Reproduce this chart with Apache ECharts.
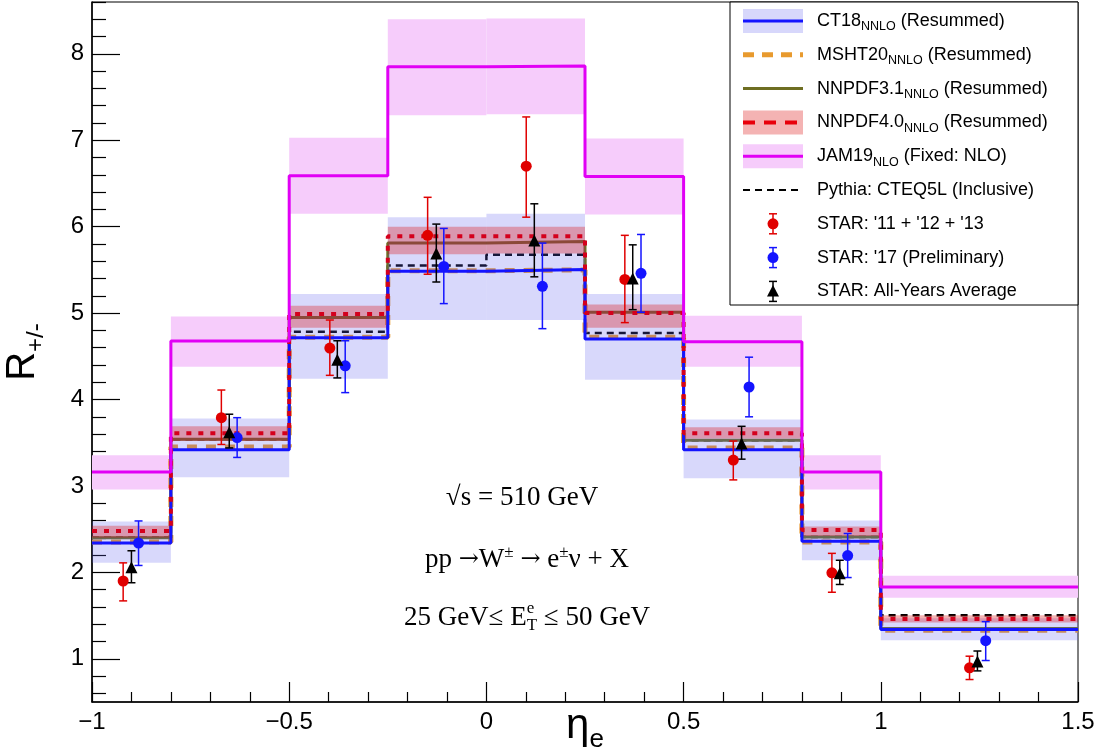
<!DOCTYPE html>
<html>
<head>
<meta charset="utf-8">
<script src="https://cdn.jsdelivr.net/npm/echarts@6/dist/echarts.min.js"></script>
<style>
    html, body { margin: 0; padding: 0; background: #fff; }
    #chart { width: 1102px; height: 756px; }
</style>
</head>
<body>
<div id="chart"></div>
<script>
    // eta bin edges
    const edges = [-1, -0.8, -0.5, -0.25, 0, 0.25, 0.5, 0.8, 1.0, 1.5];

    // theory curves, one value per bin
    const ct18 = [2.34, 3.42, 4.715, 5.485, 5.505, 4.70, 3.42, 2.36, 1.34];
    const ct18Lo = [2.11, 3.10, 4.24, 4.92, 4.92, 4.23, 3.09, 2.14, 1.215];
    const ct18Hi = [2.59, 3.78, 5.22, 6.11, 6.15, 5.22, 3.77, 2.60, 1.47];
    const msht20 = [2.35, 3.45, 4.72, 5.49, 5.50, 4.72, 3.44, 2.35, 1.33];
    const nnpdf31 = [2.40, 3.54, 4.95, 5.81, 5.83, 5.01, 3.53, 2.41, 1.35];
    const nnpdf40 = [2.48, 3.61, 4.99, 5.89, 5.89, 5.00, 3.61, 2.49, 1.46];
    const nnpdf40Lo = [2.40, 3.52, 4.83, 5.68, 5.69, 4.83, 3.55, 2.42, 1.42];
    const nnpdf40Hi = [2.54, 3.69, 5.085, 6.00, 6.00, 5.10, 3.68, 2.53, 1.505];
    const jam19 = [3.16, 4.676, 6.59, 7.85, 7.86, 6.58, 4.67, 3.16, 1.83];
    const jam19Lo = [2.96, 4.38, 6.15, 7.29, 7.30, 6.14, 4.38, 2.96, 1.705];
    const jam19Hi = [3.355, 4.96, 7.03, 8.40, 8.41, 7.02, 4.97, 3.355, 1.96];
    const pythia = [2.40, 3.54, 4.785, 5.55, 5.675, 4.77, 3.53, 2.41, 1.505];

    // STAR data
    const star13X = [-0.921, -0.672, -0.397, -0.149, 0.101, 0.351, 0.626, 0.876, 1.225];
    const star13Y = [1.90, 3.79, 4.595, 5.90, 6.70, 5.39, 3.30, 1.995, 0.896];
    const star13Lo = [1.67, 3.48, 4.28, 5.45, 6.11, 4.89, 3.07, 1.77, 0.76];
    const star13Hi = [2.11, 4.11, 4.92, 6.34, 7.27, 5.90, 3.52, 2.22, 1.03];

    const star17X = [-0.882, -0.632, -0.358, -0.108, 0.142, 0.392, 0.666, 0.916, 1.266];
    const star17Y = [2.34, 3.56, 4.39, 5.54, 5.31, 5.46, 4.145, 2.195, 1.21];
    const star17Lo = [2.08, 3.33, 4.08, 5.11, 4.82, 5.01, 3.80, 1.94, 0.98];
    const star17Hi = [2.595, 3.79, 4.68, 5.98, 5.81, 5.91, 4.49, 2.45, 1.43];

    const starAllX = [-0.90, -0.652, -0.378, -0.127, 0.1215, 0.371, 0.647, 0.896, 1.245];
    const starAllY = [2.06, 3.62, 4.46, 5.69, 5.84, 5.40, 3.49, 1.99, 0.97];
    const starAllLo = [1.88, 3.44, 4.25, 5.36, 5.42, 5.04, 3.31, 1.86, 0.86];
    const starAllHi = [2.25, 3.83, 4.68, 6.03, 6.265, 5.79, 3.69, 2.14, 1.09];

    // axis ticks
    const yMajor = [1, 2, 3, 4, 5, 6, 7, 8];
    const yMinor = [];
    for (let k = 3; k <= 43; k++) {
        if (k % 5 !== 0) yMinor.push(+(k * 0.2).toFixed(1));
    }

    const SANS = "'Liberation Sans', Arial, Helvetica, sans-serif";
    const SERIF = "'Liberation Serif', 'Times New Roman', serif";

    const RED = '#e00000';
    const BLUE = '#1414ff';

    const ctx = document.createElement('canvas').getContext('2d');
    function measure(t, size, fam) {
        ctx.font = size + 'px ' + fam;
        return ctx.measureText(t).width;
    }

    function txt(t, x, y, size, fam, color) {
        return {
            type: 'text', x: x, y: y, z: 100,
            style: {
                text: t, font: size + 'px ' + fam, fill: color || '#000',
                align: 'left', verticalAlign: 'middle',
                textAlign: 'left', textVerticalAlign: 'middle'
            }
        };
    }

    // lay out a row of text pieces (sub/superscripts via dy and smaller size)
    function run(parts, x0, y, fam, center) {
        const widths = parts.map(p => measure(p.t, p.s, p.f || fam));
        let total = 0;
        parts.forEach((p, i) => { if (p.adv !== false) total += widths[i]; });
        let x = center ? x0 - total / 2 : x0;
        const out = [];
        parts.forEach((p, i) => {
            out.push(txt(p.t, x, y + (p.dy || 0), p.s, p.f || fam, p.c));
            if (p.adv !== false) x += widths[i];
        });
        return out;
    }

    function steps(vals) {
        const pts = [];
        vals.forEach((v, i) => {
            pts.push([edges[i], v]);
            pts.push([edges[i + 1], v]);
        });
        return pts;
    }

    function stepLine(name, vals, color, width, dash, z) {
        return {
            type: 'line', name: name, data: steps(vals), z: z,
            showSymbol: false, symbol: 'none', silent: true,
            lineStyle: { color: color, width: width, type: dash || 'solid' }
        };
    }

    function bandSeries(name, lo, hi, fill, z) {
        return {
            type: 'custom', name: name, z: z, silent: true,
            data: lo.map((v, i) => [edges[i], edges[i + 1], v, hi[i]]),
            encode: { x: [0, 1], y: [2, 3] },
            renderItem: function (params, api) {
                const a = api.coord([api.value(0), api.value(3)]);
                const b = api.coord([api.value(1), api.value(2)]);
                return {
                    type: 'rect',
                    shape: { x: a[0], y: a[1], width: b[0] - a[0], height: b[1] - a[1] },
                    style: { fill: fill }
                };
            }
        };
    }

    function errSeries(name, xs, lo, hi, color) {
        return {
            type: 'custom', name: name, z: 9, silent: true,
            data: xs.map((x, i) => [x, lo[i], hi[i]]),
            encode: { x: 0, y: [1, 2] },
            renderItem: function (params, api) {
                const p1 = api.coord([api.value(0), api.value(2)]);
                const p2 = api.coord([api.value(0), api.value(1)]);
                const c = 4;
                const st = { stroke: color, lineWidth: 1.5 };
                return {
                    type: 'group',
                    children: [
                        { type: 'line', shape: { x1: p1[0], y1: p1[1], x2: p2[0], y2: p2[1] }, style: st },
                        { type: 'line', shape: { x1: p1[0] - c, y1: p1[1], x2: p1[0] + c, y2: p1[1] }, style: st },
                        { type: 'line', shape: { x1: p2[0] - c, y1: p2[1], x2: p2[0] + c, y2: p2[1] }, style: st }
                    ]
                };
            }
        };
    }

    function points(name, xs, ys, color, symbol, size) {
        return {
            type: 'scatter', name: name, z: 10, silent: true,
            data: xs.map((x, i) => [x, ys[i]]),
            symbol: symbol, symbolSize: size,
            itemStyle: { color: color, opacity: 1 }
        };
    }

    // ---------- legend (drawn by hand: band + line samples) ----------
    function legendElements() {
        const els = [];
        els.push({
            type: 'rect', z: 90,
            shape: { x: 730, y: 2, width: 348, height: 303 },
            style: { fill: '#fff', stroke: '#000', lineWidth: 1 }
        });
        const x1 = 743, x2 = 803, tx = 817;
        const rowY = i => 21 + i * 33.8;
        const line = (y, color, w, dash) => ({
            type: 'line', z: 95,
            shape: { x1: x1, y1: y, x2: x2, y2: y },
            style: { stroke: color, lineWidth: w, lineDash: dash || null }
        });
        const band = (y, fill) => ({
            type: 'rect', z: 94,
            shape: { x: x1, y: y - 12, width: x2 - x1, height: 24 },
            style: { fill: fill }
        });
        const err = (y, color) => {
            const cx = 773, st = { stroke: color, lineWidth: 1.5 };
            return [
                { type: 'line', z: 95, shape: { x1: cx, y1: y - 10, x2: cx, y2: y + 10 }, style: st },
                { type: 'line', z: 95, shape: { x1: cx - 4, y1: y - 10, x2: cx + 4, y2: y - 10 }, style: st },
                { type: 'line', z: 95, shape: { x1: cx - 4, y1: y + 10, x2: cx + 4, y2: y + 10 }, style: st }
            ];
        };
        const lab = (i, main, sub, rest) => {
            const parts = [{ t: main, s: 18 }];
            if (sub) parts.push({ t: sub, s: 12.5, dy: 6 });
            if (rest) parts.push({ t: rest, s: 18 });
            return run(parts, tx, rowY(i), SANS, false);
        };

        let y = rowY(0);
        els.push(band(y, 'rgb(215,215,251)'), line(y, BLUE, 3));
        els.push(...lab(0, 'CT18', 'NNLO', ' (Resummed)'));
        y = rowY(1);
        els.push(line(y, '#e89a2e', 5, [11, 8]));
        els.push(...lab(1, 'MSHT20', 'NNLO', ' (Resummed)'));
        y = rowY(2);
        els.push(line(y, '#6e6e22', 3));
        els.push(...lab(2, 'NNPDF3.1', 'NNLO', ' (Resummed)'));
        y = rowY(3);
        els.push(band(y, 'rgb(244,179,179)'), line(y, '#e8000b', 4, [12, 9]));
        els.push(...lab(3, 'NNPDF4.0', 'NNLO', ' (Resummed)'));
        y = rowY(4);
        els.push(band(y, 'rgb(246,204,251)'), line(y, '#e100f5', 3));
        els.push(...lab(4, 'JAM19', 'NLO', ' (Fixed: NLO)'));
        y = rowY(5);
        els.push(line(y, '#000', 2, [7, 5]));
        els.push(...lab(5, 'Pythia: CTEQ5L (Inclusive)'));
        y = rowY(6);
        els.push(...err(y, RED), { type: 'circle', z: 96, shape: { cx: 773, cy: y, r: 5.5 }, style: { fill: RED } });
        els.push(...lab(6, "STAR: '11 + '12 + '13"));
        y = rowY(7);
        els.push(...err(y, BLUE), { type: 'circle', z: 96, shape: { cx: 773, cy: y, r: 5.5 }, style: { fill: BLUE } });
        els.push(...lab(7, "STAR: '17 (Preliminary)"));
        y = rowY(8);
        els.push(...err(y, '#000'), {
            type: 'polygon', z: 96,
            shape: { points: [[773, y - 6.5], [779, y + 5], [767, y + 5]] },
            style: { fill: '#000' }
        });
        els.push(...lab(8, 'STAR: All-Years Average'));
        return els;
    }

    function annotationElements() {
        const els = [];
        const ARROW = "'DejaVu Serif', 'Liberation Serif', serif";
        els.push(...run([{ t: '√s = 510 GeV', s: 27 }], 522, 498, SERIF, true));
        els.push(...run([
            { t: 'pp ', s: 27 }, { t: '→', s: 24, f: ARROW }, { t: 'W', s: 27 }, { t: '±', s: 17, dy: -7 },
            { t: ' ', s: 27 }, { t: '→', s: 24, f: ARROW }, { t: ' e', s: 27 }, { t: '±', s: 17, dy: -7 },
            { t: 'ν + X', s: 27 }
        ], 527, 560, SERIF, true));
        els.push(...run([
            { t: '25 GeV≤ E', s: 27 }, { t: 'e', s: 17, dy: -9, adv: false },
            { t: 'T', s: 17, dy: 8 }, { t: ' ≤ 50 GeV', s: 27 }
        ], 527, 618, SERIF, true));
        // axis titles
        els.push({
            type: 'group', x: 23, y: 352, rotation: Math.PI / 2,
            children: run([{ t: 'R', s: 40 }, { t: '+/-', s: 24, dy: 13 }], 0, 0, SANS, true)
        });
        els.push(...run([{ t: 'η', s: 42 }, { t: 'e', s: 26, dy: 14 }], 585, 726, SANS, true));
        return els;
    }

    const chart = echarts.init(document.getElementById('chart'));

    const option = {
        animation: false,
        backgroundColor: '#fff',
        grid: {
            left: 92, right: 24, top: 2, bottom: 54,
            show: true, borderColor: '#000', borderWidth: 1,
            containLabel: false
        },
        xAxis: {
            type: 'value', min: -1, max: 1.5, interval: 0.5,
            axisLine: { show: true, onZero: false, lineStyle: { color: '#000', width: 1.5 } },
            axisTick: { show: true, inside: true, length: 20, lineStyle: { color: '#000', width: 1.2 } },
            minorTick: { show: true, splitNumber: 5, length: 10, lineStyle: { color: '#000', width: 1.2 } },
            axisLabel: {
                show: true, showMinLabel: true, showMaxLabel: true,
                color: '#000', fontSize: 24, fontFamily: SANS, margin: 8,
                formatter: v => String(v).replace('-', '−')
            },
            splitLine: { show: false }
        },
        yAxis: [
            {
                type: 'value', min: 0.5, max: 8.6,
                axisLine: { show: true, onZero: false, lineStyle: { color: '#000', width: 1.5 } },
                axisTick: { show: true, inside: true, length: 28, customValues: yMajor, lineStyle: { color: '#000', width: 1.2 } },
                axisLabel: { show: true, customValues: yMajor, color: '#000', fontSize: 24, fontFamily: SANS, margin: 8 },
                splitLine: { show: false }
            },
            {
                type: 'value', min: 0.5, max: 8.6, position: 'left', offset: 0,
                axisLine: { show: false, onZero: false },
                axisTick: { show: true, inside: true, length: 14, customValues: yMinor, lineStyle: { color: '#000', width: 1.2 } },
                axisLabel: { show: false },
                splitLine: { show: false }
            }
        ],
        series: [
            stepLine('Pythia', pythia, '#000', 2.5, [7, 5], 1),
            stepLine('MSHT20', msht20, '#e89a2e', 5, [10, 9], 2),
            stepLine('NNPDF3.1', nnpdf31, '#6e6e22', 3, 'solid', 3),
            bandSeries('JAM19 band', jam19Lo, jam19Hi, 'rgb(246,204,251)', 1),
            bandSeries('CT18 band', ct18Lo, ct18Hi, 'rgba(90,90,240,0.24)', 4),
            bandSeries('NNPDF4.0 band', nnpdf40Lo, nnpdf40Hi, 'rgba(220,0,0,0.3)', 5),
            stepLine('CT18', ct18, BLUE, 3, 'solid', 6),
            stepLine('NNPDF4.0', nnpdf40, '#d4001c', 4, [5, 7], 7),
            stepLine('JAM19', jam19, '#e100f5', 3, 'solid', 8),
            errSeries('STAR 11-13 err', star13X, star13Lo, star13Hi, RED),
            errSeries('STAR 17 err', star17X, star17Lo, star17Hi, BLUE),
            errSeries('STAR all err', starAllX, starAllLo, starAllHi, '#000'),
            points("STAR: '11 + '12 + '13", star13X, star13Y, RED, 'circle', 11),
            points("STAR: '17 (Preliminary)", star17X, star17Y, BLUE, 'circle', 11),
            points('STAR: All-Years Average', starAllX, starAllY, '#000', 'triangle', 12)
        ],
        graphic: { elements: legendElements().concat(annotationElements()) }
    };

    chart.setOption(option);
</script>
</body>
</html>
